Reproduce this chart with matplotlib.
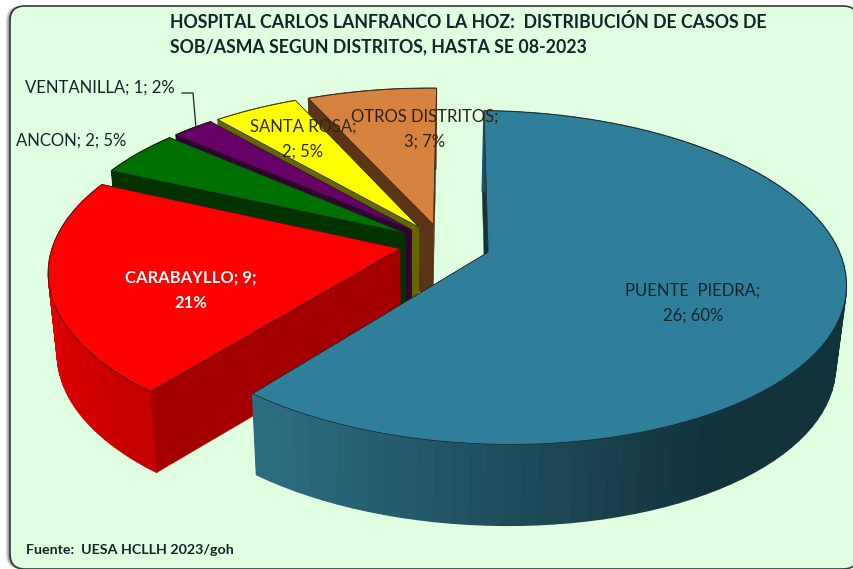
import numpy as np
import matplotlib
matplotlib.use("Agg")
import matplotlib.pyplot as plt
from matplotlib.colors import to_rgb
from matplotlib.patches import FancyBboxPatch

plt.rcParams["font.family"] = ["Lato", "DejaVu Sans"]

categories = ["PUENTE  PIEDRA", "CARABAYLLO", "ANCON", "VENTANILLA", "SANTA ROSA", "OTROS DISTRITOS"]
values = np.array([26, 9, 2, 1, 2, 3])
title_lines = ["HOSPITAL CARLOS LANFRANCO LA HOZ:  DISTRIBUCIÓN DE CASOS DE",
               "SOB/ASMA SEGUN DISTRITOS, HASTA SE 08-2023"]
source = "Fuente:  UESA HCLLH 2023/goh"

top_colors = ["#2f7f9b", "#ff0000", "#007000", "#660066", "#ffff00", "#d8823f"]
wall_colors = ["#14333c", "#a50000", "#003300", "#330033", "#666600", "#5a3415"]
arc_left = ["#2e6f84", "#dd0000", "#003300", "#330033", "#666600", "#5a3415"]
arc_right = ["#12323c", "#c40000", "#003300", "#330033", "#666600", "#5a3415"]

# camera: maps the flat pie (unit disc) on to the picture
H = np.array([[344.168, -69.894, 442.477],
              [1.839, 125.383, 244.192],
              [-0.01355, -0.15298, 1.0]])
explode = [0.137, 0.125, 0.125, 0.125, 0.125, 0.125]
radius = [0.985, 1.0, 1.0, 1.0, 1.0, 1.0]
DEPTH = 81.0
SHRINK = 0.975
SHRINK_X = 410.0

edges = np.concatenate([[0], np.cumsum(values)]) / values.sum() * 360.0
mids = (edges[:-1] + edges[1:]) / 2


def proj(u, v):
    p = H @ np.array([u, v, np.ones_like(u)])
    return p[0] / p[2], p[1] / p[2]


def lower(x, y):
    return SHRINK_X + SHRINK * (np.asarray(x) - SHRINK_X), np.asarray(y) + DEPTH


fig = plt.figure(figsize=(8.54, 5.69), dpi=100, facecolor="white")
ax = fig.add_axes([0, 0, 1, 1])
ax.set_xlim(0, 854)
ax.set_ylim(569, 0)
ax.axis("off")

# panel with soft shadow on its left
for off, col in [(4, "#d8d8d8"), (2.5, "#b0b0b0"), (1.2, "#707070")]:
    ax.add_patch(FancyBboxPatch((25 - off, 21), 818, 533, boxstyle="round,pad=15,rounding_size=15",
                                facecolor=col, edgecolor="none", zorder=0))
ax.add_patch(FancyBboxPatch((25, 21), 818, 533, boxstyle="round,pad=15,rounding_size=15",
                            facecolor="#e0ffe0", edgecolor="#3a3a3a", lw=1.2, zorder=1))

z = 2
for i in range(len(values) - 1, -1, -1):
    m = np.radians(mids[i])
    ox, oy = explode[i] * np.sin(m), -explode[i] * np.cos(m)
    t = np.radians(np.linspace(edges[i], edges[i + 1], 90))
    x, y = proj(radius[i] * np.sin(t) + ox, -radius[i] * np.cos(t) + oy)
    ax_, ay_ = proj(np.array(ox), np.array(oy))
    xb, yb = lower(x, y)
    axb, ayb = lower(ax_, ay_)
    wall = wall_colors[i]
    ax.fill([ax_, x[-1], xb[-1], axb], [ay_, y[-1], yb[-1], ayb], fc=wall, ec=wall, lw=0.3, zorder=z)
    if i == 0:
        ax.fill([ax_, x[0], xb[0], axb], [ay_, y[0], yb[0], ayb], fc=wall, ec=wall, lw=0.3, zorder=z)
    z += 1
    c0, c1 = np.array(to_rgb(arc_left[i])), np.array(to_rgb(arc_right[i]))
    xmin, xmax = x.min(), x.max()
    for k in range(len(x) - 1):
        f = (x[k] - xmin) / (xmax - xmin)
        c = c0 + (c1 - c0) * min(f * 1.25, 1)
        ax.fill([x[k], x[k + 1], xb[k + 1], xb[k]], [y[k], y[k + 1], yb[k + 1], yb[k]],
                fc=c, ec=c, lw=1.0, zorder=z)
    z += 1
    if i != 0:
        ax.fill([ax_, x[0], xb[0], axb], [ay_, y[0], yb[0], ayb], fc=wall, ec=wall, lw=0.3, zorder=z)
    z += 1
    ax.fill(np.r_[ax_, x], np.r_[ay_, y], fc=top_colors[i], ec="#202020", lw=0.5, zorder=z)
    z += 1

pct = np.round(values / values.sum() * 100).astype(int)
labels = [f"{c}; {v}; {p}%" for c, v, p in zip(categories, values, pct)]

TXT = "#14242a"
LS = 1.7
FS = 12.0
ax.text(170, 22, title_lines[0], fontsize=12.8, fontweight="bold", color=TXT, va="center", ha="left", zorder=50)
ax.text(170, 47, title_lines[1], fontsize=12.8, fontweight="bold", color=TXT, va="center", ha="left", zorder=50)
ax.text(693, 303, f"{categories[0]};\n{values[0]}; {pct[0]}%", fontsize=FS, color=TXT, ha="center", va="center",
        linespacing=LS, zorder=50)
ax.text(191, 290, f"{categories[1]}; {values[1]};\n{pct[1]}%", fontsize=FS, color="white", fontweight="bold",
        ha="center", va="center", linespacing=LS, zorder=50)
ax.text(16, 141, labels[2], fontsize=FS, color=TXT, ha="left", va="center", zorder=50)
ax.text(25, 88, labels[3], fontsize=FS, color=TXT, ha="left", va="center", zorder=50)
ax.text(303, 139, f"{categories[4]};\n{values[4]}; {pct[4]}%", fontsize=FS, color="#2a2a14", ha="center", va="center",
        linespacing=LS, zorder=50)
ax.text(425, 129, f"{categories[5]};\n{values[5]}; {pct[5]}%", fontsize=FS, color="#2c2016", ha="center", va="center",
        linespacing=LS, zorder=50)
ax.plot([182, 193, 196], [93, 93, 128], color="#222222", lw=0.9, zorder=49)
ax.text(26, 550, source, fontsize=10.3, fontweight="bold", color=TXT, ha="left", va="center", zorder=50)

fig.savefig("out.png", dpi=100)
